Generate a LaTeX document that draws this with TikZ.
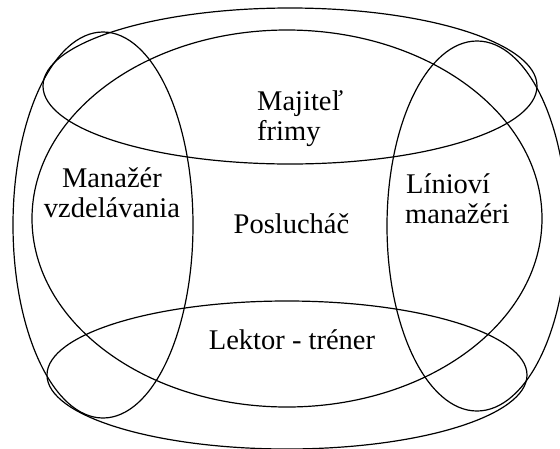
\documentclass[tikz,border=0pt]{standalone}
\usepackage{fontspec}
\setmainfont{Liberation Serif}
\begin{document}
\begin{tikzpicture}[x=1pt,y=-1pt,
  ring/.style={draw=black, line width=1.2pt},
  lbl/.style={font=\fontsize{28.5}{30}\selectfont, inner sep=0pt}]
\useasboundingbox (0,0) rectangle (560,448);
\clip (0,0) rectangle (560,448);
% big central ellipse
\path[ring] (287,218.5) ellipse [x radius=255, y radius=188.5];
% top and bottom ellipses
\path[ring] (290,86) ellipse [x radius=247, y radius=78];
\path[ring] (287,375) ellipse [x radius=240, y radius=74];
% left and right ellipses
\path[ring] (103,225) ellipse [x radius=90, y radius=193];
\path[ring] (477,226) ellipse [x radius=90, y radius=185];
% labels
\node[lbl, anchor=base west] (owner1) at (257,110) {Majiteľ};
\node[lbl, anchor=base west] (owner2) at (257,140) {frimy};
\node[lbl, anchor=base] (edu1) at (112,187) {Manažér};
\node[lbl, anchor=base] (edu2) at (112,217) {vzdelávania};
\node[lbl, anchor=base] (listener) at (291.5,233) {Poslucháč};
\node[lbl, anchor=base west] (line1) at (406,193) {Líniov\'{\i}};
\node[lbl, anchor=base west] (line2) at (405,223) {manažéri};
\node[lbl, anchor=base] (lector) at (292,349) {Lektor - tréner};
\end{tikzpicture}
\end{document}
